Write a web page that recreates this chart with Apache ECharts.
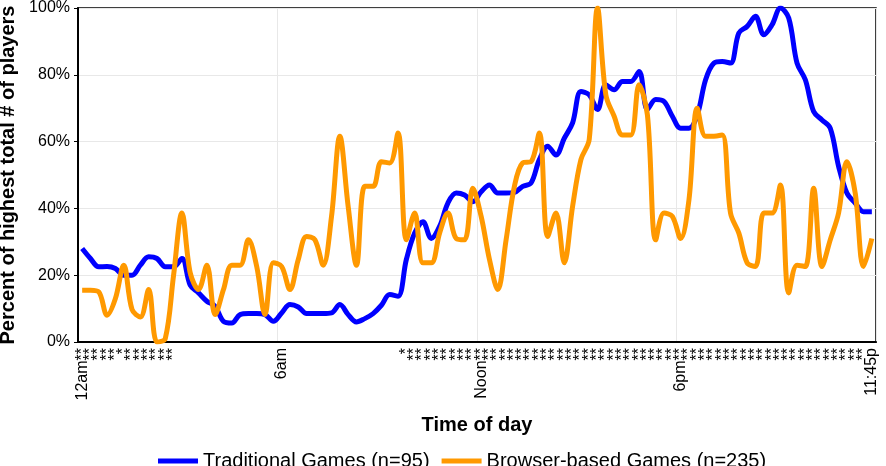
<!DOCTYPE html>
<html>
<head>
<meta charset="utf-8">
<script src="https://cdn.jsdelivr.net/npm/echarts@6/dist/echarts.min.js"></script>
<style>
  html, body { margin: 0; padding: 0; background: #fff; }
  #chart { width: 886px; height: 466px; }
</style>
</head>
<body>
<div id="chart"></div>
<script>
const timeIdx = [0, 24, 48, 72, 95]
const timeNames = ['12am', '6am', 'Noon', '6pm', '11:45p']
// significance stars per quarter hour: 2 = **, 1 = *, 0 = none
const signif = [
  2, 2, 2, 2, 2, 1, 2, 2, 2, 2, 2, 2,
  0, 0, 0, 0, 0, 0, 0, 0, 0, 0, 0, 0, 0, 0, 0, 0, 0, 0, 0, 0, 0, 0, 0, 0, 0, 0, 0,
  1,
  2, 2, 2, 2, 2, 2, 2, 2, 2, 2, 2, 2, 2, 2, 2, 2, 2, 2, 2, 2, 2, 2, 2, 2, 2, 2, 2, 2,
  2, 2, 2, 2, 2, 2, 2, 2, 2, 2, 2, 2, 2, 2, 2, 2, 2, 2, 2, 2, 2, 2, 2, 2, 2, 2, 2,
  0
]
const traditional = [
  28, 25, 22.5, 22.6, 22, 20, 20, 23, 25.5, 25, 22.5, 22.5,
  25, 17, 14.7, 12.2, 10.7, 6.2, 5.7, 8.2, 8.5, 8.5, 8.2, 6.2,
  8.7, 11.2, 10.5, 8.5, 8.5, 8.5, 8.7, 11.2, 8.2, 6, 7, 8.5,
  11, 14.2, 13.7, 24.7, 32.6, 36, 31, 34.6, 41.6, 44.6, 44, 42,
  45, 47, 44.6, 44.6, 44.8, 46.6, 47.6, 54.6, 58.6, 56, 61, 65.6,
  75, 74, 69.6, 77, 75.5, 78, 78, 81, 69.6, 72.6, 72, 67.6,
  64, 64, 68, 78.5, 83.5, 84, 83.5, 92.5, 94.5, 97.5, 92, 95,
  100, 97, 83.5, 78.5, 69, 66.5, 64, 52.6, 44.6, 41.6, 39, 39
]
const browser = [
  15.5, 15.5, 15, 8, 13, 23, 9.7, 7.5, 15.7, 0, 1, 20,
  38.6, 20.7, 15.7, 23, 8.2, 15.7, 23, 23, 30.6, 22.6, 8.2, 23.7,
  22.6, 15.7, 24.7, 31.6, 30.6, 23, 37.6, 61.6, 40.6, 23, 46.6, 46.6,
  54, 53.6, 62.6, 30.6, 38.6, 23.7, 23.7, 32.6, 38.6, 31, 30.6, 46,
  37.6, 24.7, 15.7, 30.6, 46.6, 53.6, 54, 62.6, 31.6, 38.6, 23.7, 40.6,
  54.6, 60.6, 100, 74, 67.6, 62, 62, 77, 68, 30.6, 38.6, 37.6,
  31, 42.6, 70, 61.6, 61.6, 62, 38.6, 32.6, 23.7, 22.6, 38.6, 38.6,
  47, 14.7, 23, 22.6, 46, 22.6, 30.6, 38.6, 54, 44.6, 22.6, 31
]

const categories = signif.map((s, i) => {
  const k = timeIdx.indexOf(i)
  return (k >= 0 ? timeNames[k] : '') + '*'.repeat(s)
})

const font = 'Liberation Sans, Arial, sans-serif'
const chart = echarts.init(document.getElementById('chart'))
chart.setOption({
  animation: false,
  textStyle: { fontFamily: font, color: '#000' },
  grid: {
    left: 78, right: 10, top: 8, bottom: 124,
    outerBoundsMode: 'none',
    show: true, borderColor: '#000', borderWidth: 1.5
  },
  legend: {
    left: 153, top: 446,
    icon: 'rect', itemWidth: 40, itemHeight: 5, itemGap: 12,
    textStyle: { fontSize: 20, fontFamily: font, color: '#000' }
  },
  xAxis: {
    type: 'category',
    data: categories,
    boundaryGap: true,
    name: 'Time of day',
    nameLocation: 'middle',
    nameGap: 73,
    nameTextStyle: { fontSize: 20, fontWeight: 'bold', fontFamily: font, color: '#000' },
    axisLine: { lineStyle: { color: '#000', width: 2 } },
    axisTick: { interval: (i) => i % 24 === 0, length: 5, lineStyle: { color: '#000' } },
    axisLabel: { interval: 0, rotate: 90, fontSize: 16, color: '#000', margin: 6 },
    splitLine: { show: true, interval: (i) => i > 0 && i % 24 === 0, lineStyle: { color: '#e8e8e8' } }
  },
  yAxis: {
    type: 'value',
    min: 0, max: 100, interval: 20,
    name: 'Percent of highest total # of players',
    nameLocation: 'middle',
    nameGap: 54,
    nameTextStyle: { fontSize: 20, fontWeight: 'bold', fontFamily: font, color: '#000' },
    axisLine: { show: true, lineStyle: { color: '#000', width: 2 } },
    axisTick: { show: true, length: 4, lineStyle: { color: '#000' } },
    axisLabel: { formatter: '{value}%', fontSize: 16, color: '#000', margin: 8 },
    splitLine: { lineStyle: { color: '#e8e8e8' } }
  },
  series: [
    {
      name: 'Traditional Games (n=95)',
      type: 'line',
      data: traditional,
      smooth: 0.35,
      symbol: 'none',
      itemStyle: { color: '#0000ff' },
      lineStyle: { color: '#0000ff', width: 5 }
    },
    {
      name: 'Browser-based Games (n=235)',
      type: 'line',
      data: browser,
      smooth: 0.35,
      symbol: 'none',
      itemStyle: { color: '#ff9900' },
      lineStyle: { color: '#ff9900', width: 5 }
    }
  ]
})
</script>
</body>
</html>
